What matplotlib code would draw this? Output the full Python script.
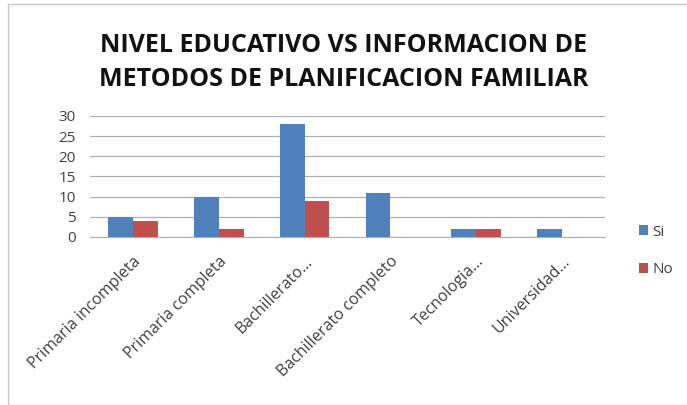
import matplotlib
matplotlib.use("Agg")
import matplotlib.pyplot as plt
import numpy as np
from matplotlib.patches import Rectangle

categories = ["Primaria incompleta", "Primaria completa", "Bachillerato...",
              "Bachillerato completo", "Tecnologia...", "Universidad..."]
si = [5, 10, 28, 11, 2, 2]
no = [4, 2, 9, 0, 2, 0]
yticks = [0, 5, 10, 15, 20, 25, 30]

plt.rcParams['font.family'] = ['Open Sans', 'DejaVu Sans']

fig = plt.figure(figsize=(6.87, 4.05), dpi=100)
ax = fig.add_axes([90/687, 1-237/405, 515/687, 121/405])

x = np.arange(len(categories))
w = 0.29
ax.bar(x - w/2, si, w, color="#4F81BD", label="Si", zorder=3)
ax.bar(x + w/2, no, w, color="#C0504D", label="No", zorder=3)

ax.set_xlim(-0.5, len(categories) - 0.5)
ax.set_ylim(0, 30)
ax.set_yticks(yticks)
ax.set_yticklabels([str(t) for t in yticks], fontsize=11, color="#404040")
ax.yaxis.grid(True, color="#B0B0B0", linewidth=0.9, zorder=0)
ax.tick_params(axis='y', length=0, pad=10)
ax.tick_params(axis='x', length=0, pad=12)
ax.set_xticks(x)
ax.set_xticklabels(categories, rotation=45, ha='right', rotation_mode='anchor',
                   fontsize=11.5, color="#404040")
for s in ['top', 'right', 'left']:
    ax.spines[s].set_visible(False)
ax.spines['bottom'].set_color("#B0B0B0")

fig.text(0.5, 1-46/405, "NIVEL EDUCATIVO VS INFORMACION DE", ha='center', va='center',
         fontsize=18, fontweight='bold', color="#111111")
fig.text(0.5, 1-79/405, "METODOS DE PLANIFICACION FAMILIAR", ha='center', va='center',
         fontsize=18, fontweight='bold', color="#111111")

leg = fig.legend(loc='center left', bbox_to_anchor=(625/687, 1-251/405), frameon=False,
                 fontsize=11, handlelength=0.6, handleheight=0.6, handletextpad=0.3,
                 labelspacing=1.5)
for t in leg.get_texts():
    t.set_color("#404040")

fig.patches.append(Rectangle((8/687, 0), 1, 1-4/405, transform=fig.transFigure,
                             fill=False, edgecolor="#C8C8C8", linewidth=1))

fig.savefig("out.png", dpi=100)
